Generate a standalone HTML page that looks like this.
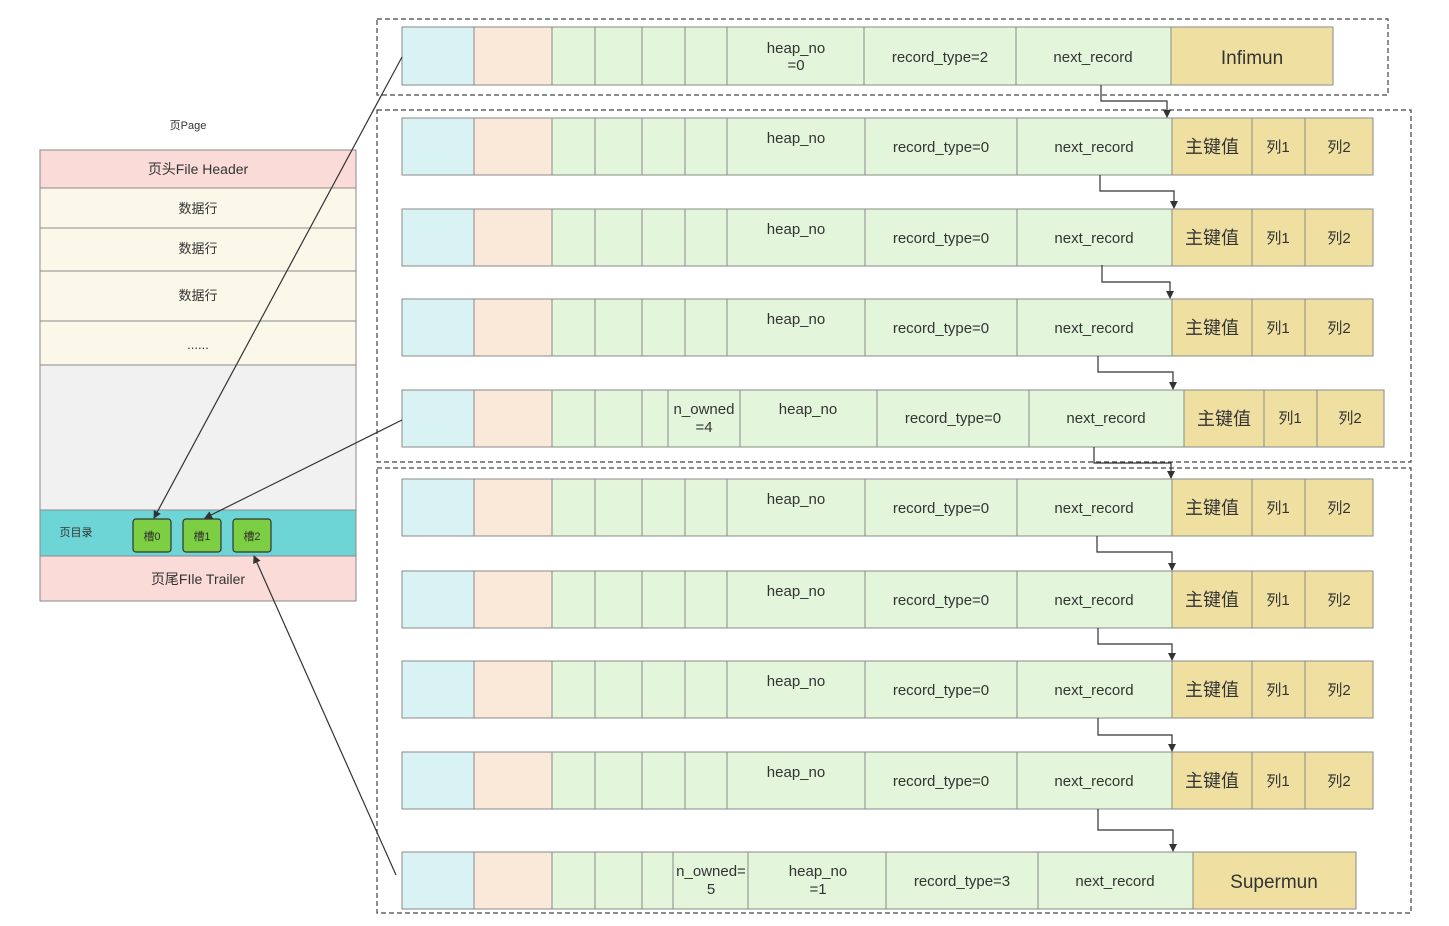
<!DOCTYPE html>
<html><head><meta charset="utf-8"><style>
html,body{margin:0;padding:0;background:#fff;}
svg{display:block;font-family:"Liberation Sans","Noto Sans CJK SC",sans-serif;}
.c{stroke:#8a8a8a;stroke-width:1;}
.b{fill:#d9f3f4}.p{fill:#fae8d9}.g{fill:#e3f5da}.y{fill:#efe0a2}
text{fill:#333;}
.t{font-size:15px;text-anchor:middle;}
.k{font-size:18px;text-anchor:middle;}
.a{stroke:#333;stroke-width:1.2;fill:none;}
.d{stroke:#444;stroke-width:1.2;fill:none;stroke-dasharray:5 3;}
</style></head><body>
<svg width="1449" height="926" viewBox="0 0 1449 926" xmlns="http://www.w3.org/2000/svg">
<defs><marker id="m" markerWidth="8" markerHeight="8" refX="7" refY="4" orient="auto" markerUnits="userSpaceOnUse"><path d="M0,0 L8,4 L0,8 z" fill="#333"/></marker></defs>

<!-- dashed groups -->
<rect class="d" x="377" y="19" width="1011" height="76"/>
<rect class="d" x="377" y="110" width="1034" height="352"/>
<rect class="d" x="377" y="468" width="1034" height="445"/>

<!-- Row 0 Infimun -->
<g>
<rect class="c b" x="402" y="27" width="72" height="58"/><rect class="c p" x="474" y="27" width="78" height="58"/>
<rect class="c g" x="552" y="27" width="43" height="58"/><rect class="c g" x="595" y="27" width="47" height="58"/>
<rect class="c g" x="642" y="27" width="43" height="58"/><rect class="c g" x="685" y="27" width="42" height="58"/>
<rect class="c g" x="727" y="27" width="137" height="58"/><rect class="c g" x="864" y="27" width="152" height="58"/>
<rect class="c g" x="1016" y="27" width="155" height="58"/><rect class="c y" x="1171" y="27" width="162" height="58"/>
<text class="t" x="796" y="53">heap_no</text><text class="t" x="796" y="70">=0</text>
<text class="t" x="940" y="62">record_type=2</text><text class="t" x="1093" y="62">next_record</text>
<text class="t" x="1252" y="64" style="font-size:19px">Infimun</text>
</g>

<!-- normal rows -->
<g id="r1">
<rect class="c b" x="402" y="118" width="72" height="57"/><rect class="c p" x="474" y="118" width="78" height="57"/>
<rect class="c g" x="552" y="118" width="43" height="57"/><rect class="c g" x="595" y="118" width="47" height="57"/>
<rect class="c g" x="642" y="118" width="43" height="57"/><rect class="c g" x="685" y="118" width="42" height="57"/>
<rect class="c g" x="727" y="118" width="138" height="57"/><rect class="c g" x="865" y="118" width="152" height="57"/>
<rect class="c g" x="1017" y="118" width="155" height="57"/><rect class="c y" x="1172" y="118" width="80" height="57"/>
<rect class="c y" x="1252" y="118" width="53" height="57"/><rect class="c y" x="1305" y="118" width="68" height="57"/>
<text class="t" x="796" y="143">heap_no</text><text class="t" x="941" y="152">record_type=0</text>
<text class="t" x="1094" y="152">next_record</text><text class="k" x="1212" y="153">主键值</text>
<text class="t" x="1278" y="152">列1</text><text class="t" x="1339" y="152">列2</text>
</g>
<use href="#r1" y="91"/>
<use href="#r1" y="181"/>
<use href="#r1" y="361"/>
<use href="#r1" y="453"/>
<use href="#r1" y="543"/>
<use href="#r1" y="634"/>

<!-- n_owned=4 row -->
<g>
<rect class="c b" x="402" y="390" width="72" height="57"/><rect class="c p" x="474" y="390" width="78" height="57"/>
<rect class="c g" x="552" y="390" width="43" height="57"/><rect class="c g" x="595" y="390" width="47" height="57"/>
<rect class="c g" x="642" y="390" width="26" height="57"/><rect class="c g" x="668" y="390" width="72" height="57"/>
<rect class="c g" x="740" y="390" width="137" height="57"/><rect class="c g" x="877" y="390" width="152" height="57"/>
<rect class="c g" x="1029" y="390" width="155" height="57"/><rect class="c y" x="1184" y="390" width="80" height="57"/>
<rect class="c y" x="1264" y="390" width="53" height="57"/><rect class="c y" x="1317" y="390" width="67" height="57"/>
<text class="t" x="704" y="414">n_owned</text><text class="t" x="704" y="432">=4</text>
<text class="t" x="808" y="414">heap_no</text><text class="t" x="953" y="423">record_type=0</text>
<text class="t" x="1106" y="423">next_record</text><text class="k" x="1224" y="425">主键值</text>
<text class="t" x="1290" y="423">列1</text><text class="t" x="1350" y="423">列2</text>
</g>

<!-- Supermun row -->
<g>
<rect class="c b" x="402" y="852" width="72" height="57"/><rect class="c p" x="474" y="852" width="78" height="57"/>
<rect class="c g" x="552" y="852" width="43" height="57"/><rect class="c g" x="595" y="852" width="47" height="57"/>
<rect class="c g" x="642" y="852" width="31" height="57"/><rect class="c g" x="673" y="852" width="75" height="57"/>
<rect class="c g" x="748" y="852" width="138" height="57"/><rect class="c g" x="886" y="852" width="152" height="57"/>
<rect class="c g" x="1038" y="852" width="155" height="57"/><rect class="c y" x="1193" y="852" width="163" height="57"/>
<text class="t" x="711" y="876">n_owned=</text><text class="t" x="711" y="894">5</text>
<text class="t" x="818" y="876">heap_no</text><text class="t" x="818" y="894">=1</text>
<text class="t" x="962" y="886">record_type=3</text><text class="t" x="1115" y="886">next_record</text>
<text class="t" x="1274" y="888" style="font-size:19px">Supermun</text>
</g>

<!-- next_record arrows -->
<path class="a" marker-end="url(#m)" d="M1101,85 V101 H1167 V117"/>
<path class="a" marker-end="url(#m)" d="M1100,175 V191 H1174 V208"/>
<path class="a" marker-end="url(#m)" d="M1102,265 V282 H1170 V298"/>
<path class="a" marker-end="url(#m)" d="M1098,356 V372 H1173 V389"/>
<path class="a" marker-end="url(#m)" d="M1094,447 V463 H1171 V478"/>
<path class="a" marker-end="url(#m)" d="M1097,536 V552 H1172 V570"/>
<path class="a" marker-end="url(#m)" d="M1098,628 V644 H1172 V660"/>
<path class="a" marker-end="url(#m)" d="M1098,718 V735 H1172 V751"/>
<path class="a" marker-end="url(#m)" d="M1098,809 V830 H1173 V851"/>

<!-- page -->
<text x="188" y="129" style="font-size:11px;text-anchor:middle">页Page</text>
<rect class="c" x="40" y="150" width="316" height="38" fill="#fadbd8"/>
<rect class="c" x="40" y="188" width="316" height="40" fill="#fbf8ea"/>
<rect class="c" x="40" y="228" width="316" height="43" fill="#fbf8ea"/>
<rect class="c" x="40" y="271" width="316" height="50" fill="#fbf8ea"/>
<rect class="c" x="40" y="321" width="316" height="44" fill="#fbf8ea"/>
<rect class="c" x="40" y="365" width="316" height="145" fill="#f1f1f1"/>
<rect class="c" x="40" y="510" width="316" height="46" fill="#6dd5d6"/>
<rect class="c" x="40" y="556" width="316" height="45" fill="#fadbd8"/>
<text x="198" y="174" style="font-size:14px;text-anchor:middle">页头File Header</text>
<text x="198" y="213" style="font-size:13px;text-anchor:middle">数据行</text>
<text x="198" y="253" style="font-size:13px;text-anchor:middle">数据行</text>
<text x="198" y="300" style="font-size:13px;text-anchor:middle">数据行</text>
<text x="198" y="349" style="font-size:13px;text-anchor:middle">......</text>
<text x="76" y="536" style="font-size:11px;text-anchor:middle">页目录</text>
<text x="198" y="584" style="font-size:14px;text-anchor:middle">页尾FIle Trailer</text>
<rect x="133" y="519" width="38" height="33" rx="3" fill="#7ccf43" stroke="#333" stroke-width="1.2"/>
<rect x="183" y="519" width="38" height="33" rx="3" fill="#7ccf43" stroke="#333" stroke-width="1.2"/>
<rect x="233" y="519" width="38" height="33" rx="3" fill="#7ccf43" stroke="#333" stroke-width="1.2"/>
<text x="152" y="540" style="font-size:11px;text-anchor:middle">槽0</text>
<text x="202" y="540" style="font-size:11px;text-anchor:middle">槽1</text>
<text x="252" y="540" style="font-size:11px;text-anchor:middle">槽2</text>

<!-- slot pointers -->
<path class="a" marker-end="url(#m)" d="M402,57 L154,518"/>
<path class="a" marker-end="url(#m)" d="M402,420 L205,518"/>
<path class="a" marker-end="url(#m)" d="M396,875 L254,556"/>
</svg>
</body></html>
